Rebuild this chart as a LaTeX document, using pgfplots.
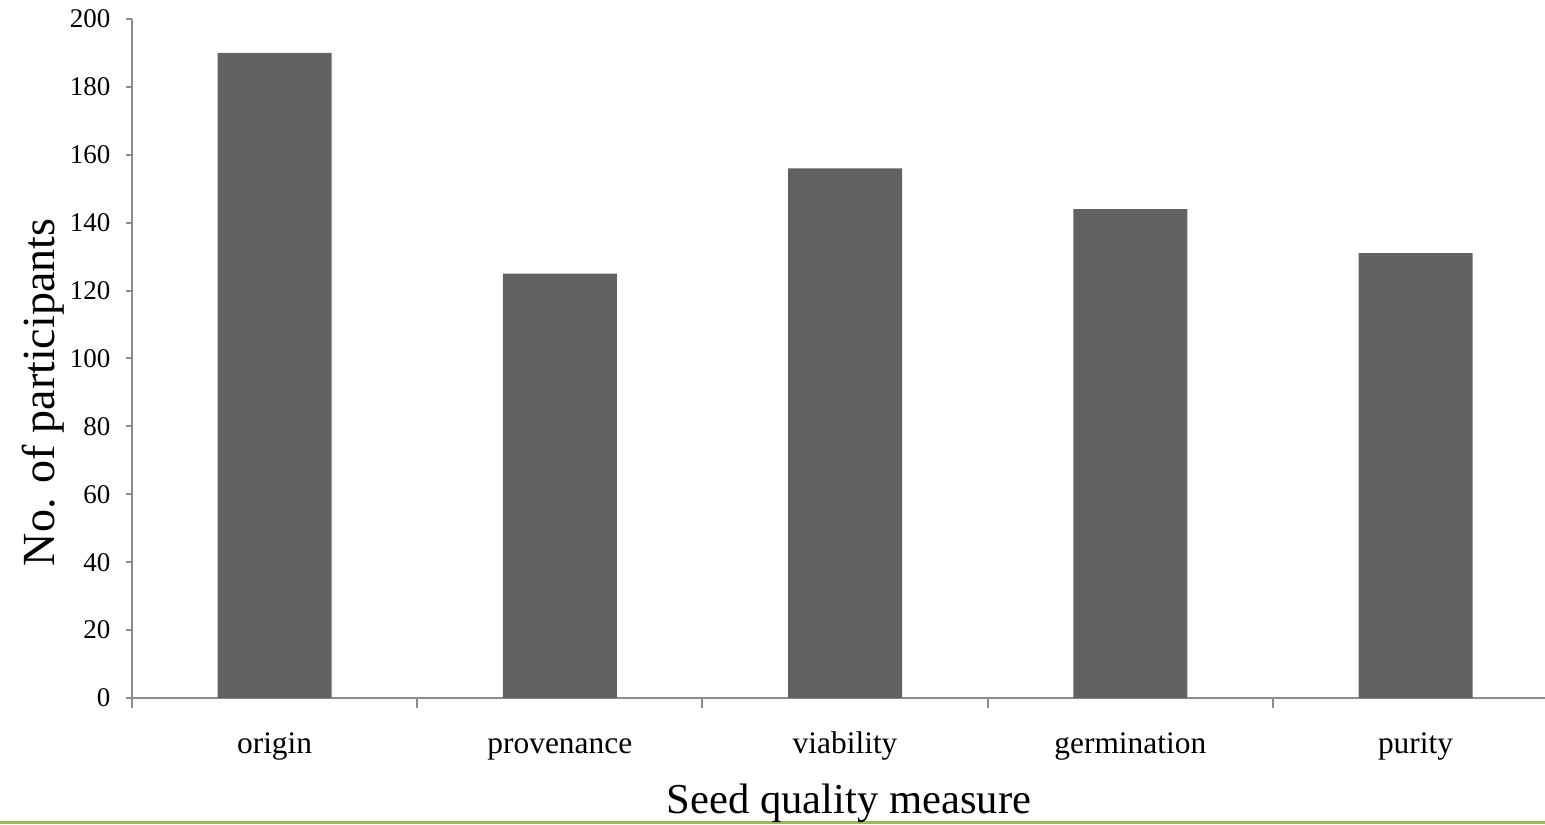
\documentclass[border=0pt]{standalone}
\usepackage{fontspec}
\setmainfont{Liberation Serif}
\usepackage{pgfplots}
\pgfplotsset{compat=1.18}
\definecolor{barc}{HTML}{626262}
\definecolor{axc}{HTML}{8C8C8C}
\definecolor{grn}{HTML}{9BBB59}
\begin{document}
\begin{tikzpicture}
\useasboundingbox (0,0) rectangle (772.5pt,412pt);
\fill[grn] (0,0) rectangle (772.5pt,1.4pt);
\begin{axis}[
  at={(66pt,63pt)}, anchor=south west,
  scale only axis, width=706.5pt, height=339.5pt,
  xmin=-0.5, xmax=4.454, ymin=0, ymax=200,
  axis lines*=left,
  axis line style={draw=axc, line width=1pt},
  tick align=outside,
  ytick={0,20,...,200},
  ytick style={draw=axc, line width=1pt},
  major tick length=3pt,
  xtick={0,1,2,3,4},
  xticklabels={origin,provenance,viability,germination,purity},
  xtick style={draw=none},
  extra x ticks={-0.5,0.5,1.5,2.5,3.5},
  extra x tick labels={},
  extra x tick style={xtick style={draw=axc, line width=1pt}, major tick length=5pt},
  /pgf/number format/assume math mode=true,
  yticklabel style={font=\fontsize{13.5pt}{16pt}\selectfont, anchor=east, xshift=-4.3pt},
  xticklabel style={font=\fontsize{15.7pt}{18pt}\selectfont, anchor=base, yshift=-24.5pt},
  xlabel={Seed quality measure},
  ylabel={No. of participants},
  every axis x label/.style={at={(axis description cs:0.5074,-0.1708)}, anchor=base, font=\fontsize{21.3pt}{25pt}\selectfont},
  every axis y label/.style={at={(axis description cs:-0.0545,0.45)}, rotate=90, anchor=base, font=\fontsize{23pt}{27pt}\selectfont},
  ybar, bar width=57pt,
]
\addplot[fill=barc, draw=none] coordinates {(0,190) (1,125) (2,156) (3,144) (4,131)};
\end{axis}
\end{tikzpicture}
\end{document}
